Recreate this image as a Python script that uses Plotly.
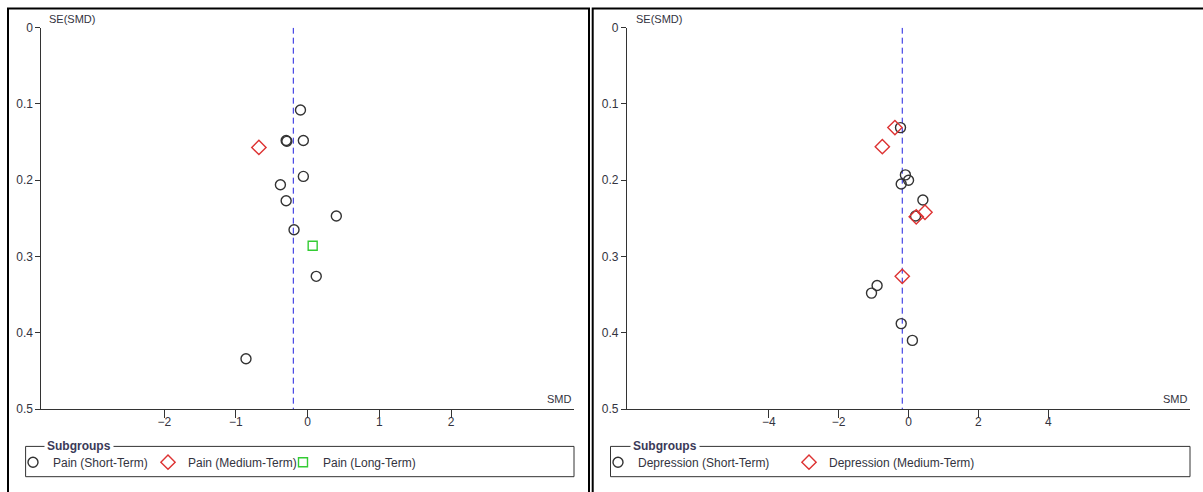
import plotly.graph_objects as go

W, H = 1203, 492

# ---------------- data ----------------
se_ticks = [0, 0.1, 0.2, 0.3, 0.4, 0.5]
pain_xticks = [-2, -1, 0, 1, 2]
dep_xticks = [-4, -2, 0, 2, 4]

pain_short_smd = [-0.10, -0.30, -0.29, -0.06, -0.06, -0.38, -0.30, 0.40, -0.19, 0.12, -0.86]
pain_short_se = [0.108, 0.148, 0.149, 0.148, 0.195, 0.206, 0.227, 0.247, 0.265, 0.326, 0.434]
pain_medium_smd = [-0.68]
pain_medium_se = [0.157]
pain_long_smd = [0.07]
pain_long_se = [0.286]
pain_pooled = -0.20

dep_short_smd = [-0.23, -0.09, 0.00, -0.21, 0.41, 0.20, -0.90, -1.06, -0.21, 0.11]
dep_short_se = [0.131, 0.193, 0.200, 0.205, 0.226, 0.247, 0.338, 0.348, 0.388, 0.410]
dep_medium_smd = [-0.39, -0.75, 0.22, 0.47, -0.18]
dep_medium_se = [0.131, 0.156, 0.248, 0.242, 0.326]
dep_pooled = -0.18

# ---------------- styles ----------------
FONT = "Liberation Sans, Arial, sans-serif"
TXT = "#333340"
BLACK = "#333333"
RED = "#dd3333"
GREEN = "#33cc33"
BLUE = "#2020e0"


def px_x(p):
    return p / W


def px_y(p):
    # vertical pixel position in the picture -> paper fraction
    return 1 - ((p - 6.0) / 0.9722) / H


fig = go.Figure()

# pooled lines
fig.add_trace(go.Scatter(x=[pain_pooled, pain_pooled], y=[se_ticks[0], se_ticks[-1]],
                         mode="lines", line=dict(color=BLUE, width=1, dash="6px,4px"),
                         showlegend=False, hoverinfo="skip", xaxis="x", yaxis="y"))
fig.add_trace(go.Scatter(x=[dep_pooled, dep_pooled], y=[se_ticks[0], se_ticks[-1]],
                         mode="lines", line=dict(color=BLUE, width=1, dash="6px,4px"),
                         showlegend=False, hoverinfo="skip", xaxis="x2", yaxis="y2"))

circ = dict(symbol="circle-open", size=10, color=BLACK, line=dict(width=1.4, color=BLACK))
diam = dict(symbol="diamond-open", size=11, color=RED, line=dict(width=1.4, color=RED))
sq = dict(symbol="square-open", size=9, color=GREEN, line=dict(width=1.4, color=GREEN))

fig.add_trace(go.Scatter(x=pain_short_smd, y=pain_short_se, mode="markers", marker=circ,
                         name="Pain (Short-Term)", legend="legend", xaxis="x", yaxis="y"))
fig.add_trace(go.Scatter(x=pain_medium_smd, y=pain_medium_se, mode="markers", marker=diam,
                         name="Pain (Medium-Term)", legend="legend", xaxis="x", yaxis="y"))
fig.add_trace(go.Scatter(x=pain_long_smd, y=pain_long_se, mode="markers", marker=sq,
                         name="Pain (Long-Term)", legend="legend", xaxis="x", yaxis="y"))

fig.add_trace(go.Scatter(x=dep_short_smd, y=dep_short_se, mode="markers", marker=circ,
                         name="Depression (Short-Term)", legend="legend2", xaxis="x2", yaxis="y2"))
fig.add_trace(go.Scatter(x=dep_medium_smd, y=dep_medium_se, mode="markers", marker=diam,
                         name="Depression (Medium-Term)", legend="legend2", xaxis="x2", yaxis="y2"))

XD_L = [px_x(41.3), px_x(574)]
XD_R = [px_x(626.8), px_x(1190.3)]
YD = [px_y(408.3), px_y(26.7)]
RL = [-3.715, 3.715]
RR = [-8.06, 8.06]
RY = [se_ticks[-1], se_ticks[0]]

tickfont = dict(family=FONT, size=12, color=TXT)


def base_x(domain, rng, ticks, anchor):
    return dict(domain=domain, range=rng, anchor=anchor, tickvals=ticks, ticks="outside",
                ticklen=8, tickwidth=1, tickcolor=BLACK, showline=True, linecolor=BLACK,
                linewidth=1, showgrid=False, zeroline=False, tickfont=tickfont,
                ticklabelstandoff=-6, fixedrange=True)


def over_x(over, rng, ticks, anchor):
    return dict(overlaying=over, range=rng, anchor=anchor, tickvals=ticks, ticks="inside",
                ticklen=4, tickwidth=1, tickcolor=BLACK, showline=False, showgrid=False,
                zeroline=False, showticklabels=False, fixedrange=True)


def base_y(domain, anchor):
    return dict(domain=domain, range=RY, anchor=anchor, tickvals=se_ticks,
                ticktext=[f"{v:g}" for v in se_ticks], ticks="outside", ticklen=5, tickwidth=1,
                tickcolor=BLACK, showline=True, linecolor=BLACK, linewidth=1, showgrid=False,
                zeroline=False, tickfont=tickfont, fixedrange=True)


def over_y(over, anchor):
    return dict(overlaying=over, range=RY, anchor=anchor, side="left", tickvals=se_ticks,
                ticks="inside", ticklen=4, tickwidth=1, tickcolor=BLACK, showline=False,
                showgrid=False, zeroline=False, showticklabels=False, fixedrange=True)


shapes = [
    # panel frames
    dict(type="rect", xref="paper", yref="paper", x0=px_x(8), x1=px_x(589), y0=-0.1,
         y1=px_y(7.5), line=dict(color="black", width=2), layer="below"),
    dict(type="rect", xref="paper", yref="paper", x0=px_x(592.7), x1=1.1, y0=-0.1,
         y1=px_y(7.5), line=dict(color="black", width=2), layer="below"),
    # legend boxes
    dict(type="rect", xref="paper", yref="paper", x0=px_x(25.6), x1=px_x(574), y0=px_y(476),
         y1=px_y(445.7), line=dict(color=BLACK, width=1), layer="below"),
    dict(type="rect", xref="paper", yref="paper", x0=px_x(610.5), x1=px_x(1190), y0=px_y(476),
         y1=px_y(445.7), line=dict(color=BLACK, width=1), layer="below"),
]

annotations = [
    dict(text="SE(SMD)", xref="paper", yref="paper", x=px_x(47), y=px_y(18.5), xanchor="left",
         yanchor="middle", showarrow=False, font=dict(family=FONT, size=11, color=TXT)),
    dict(text="SE(SMD)", xref="paper", yref="paper", x=px_x(633.5), y=px_y(18.5), xanchor="left",
         yanchor="middle", showarrow=False, font=dict(family=FONT, size=11, color=TXT)),
    dict(text="SMD", xref="paper", yref="paper", x=px_x(574), y=px_y(398), xanchor="right",
         yanchor="middle", showarrow=False, font=dict(family=FONT, size=11, color=TXT)),
    dict(text="SMD", xref="paper", yref="paper", x=px_x(1189.5), y=px_y(398), xanchor="right",
         yanchor="middle", showarrow=False, font=dict(family=FONT, size=11, color=TXT)),
    dict(text="<b>Subgroups</b>", xref="paper", yref="paper", x=px_x(44), y=px_y(445.5),
         xanchor="left", yanchor="middle", showarrow=False, bgcolor="white", borderpad=2,
         font=dict(family=FONT, size=12, color="#3a3a58")),
    dict(text="<b>Subgroups</b>", xref="paper", yref="paper", x=px_x(630), y=px_y(445.5),
         xanchor="left", yanchor="middle", showarrow=False, bgcolor="white", borderpad=2,
         font=dict(family=FONT, size=12, color="#3a3a58")),
]

legfont = dict(family=FONT, size=12, color=TXT)

fig.update_layout(
    width=W, height=H, autosize=False,
    margin=dict(l=0, r=0, t=0, b=0),
    paper_bgcolor="white", plot_bgcolor="white",
    font=dict(family=FONT, size=12, color=TXT),
    xaxis=base_x(XD_L, RL, pain_xticks, "y"),
    yaxis=base_y(YD, "x"),
    xaxis2=base_x(XD_R, RR, dep_xticks, "y2"),
    yaxis2=base_y(YD, "x2"),
    xaxis3=over_x("x", RL, pain_xticks, "y"),
    yaxis3=over_y("y", "x"),
    xaxis4=over_x("x2", RR, dep_xticks, "y2"),
    yaxis4=over_y("y2", "x2"),
    legend=dict(orientation="h", x=px_x(13), y=px_y(461.5), xanchor="left", yanchor="middle",
                bgcolor="rgba(0,0,0,0)", borderwidth=0, entrywidth=90,
                entrywidthmode="pixels", font=legfont, itemclick=False, itemdoubleclick=False),
    legend2=dict(orientation="h", x=px_x(598), y=px_y(461.5), xanchor="left", yanchor="middle",
                 bgcolor="rgba(0,0,0,0)", borderwidth=0, entrywidth=146,
                 entrywidthmode="pixels", font=legfont, itemclick=False, itemdoubleclick=False),
    shapes=shapes,
    annotations=annotations,
    hovermode="closest",
)

fig.write_html("out.html", config={"displayModeBar": False},
               post_script="document.body.style.margin='0';document.body.style.overflow='hidden';")
